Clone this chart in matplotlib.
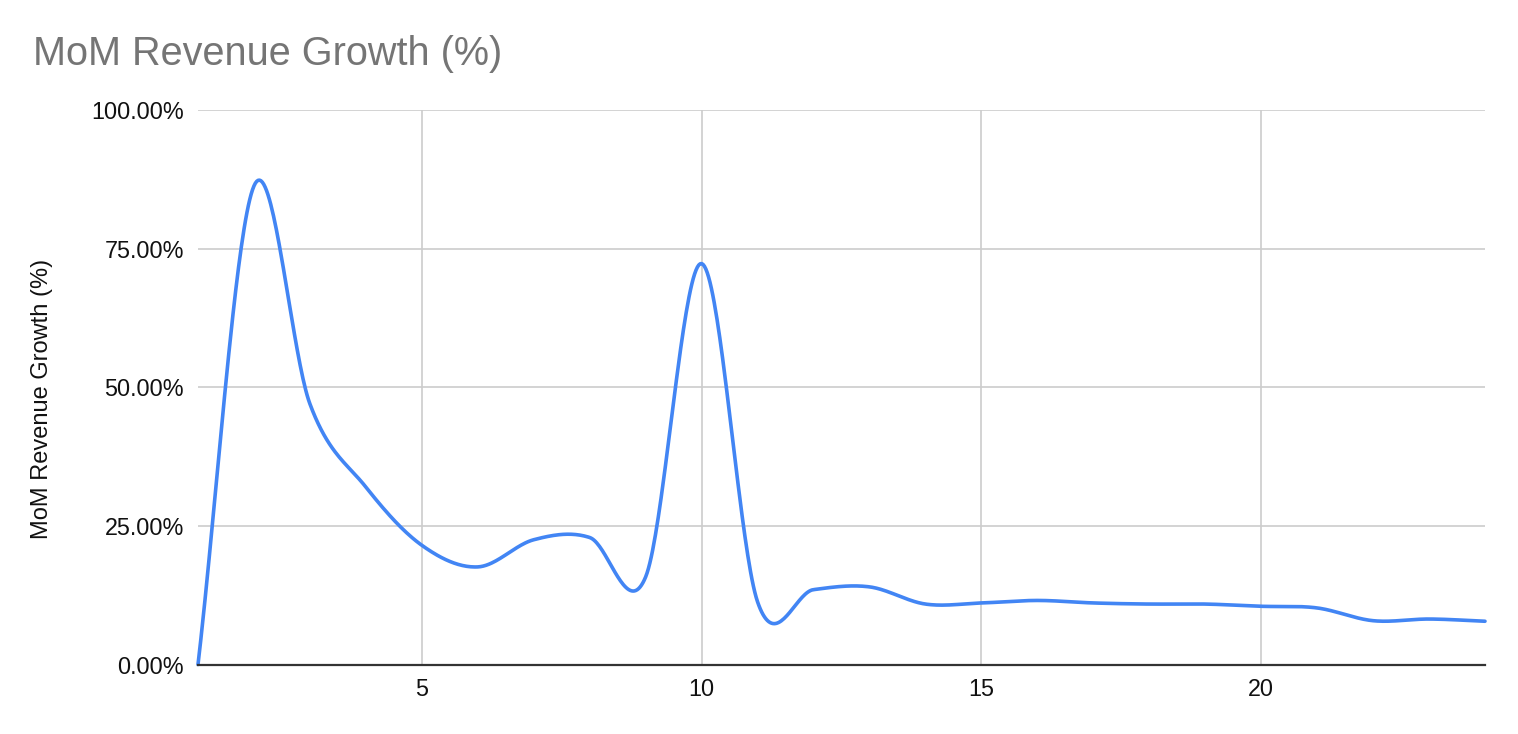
import numpy as np
import matplotlib
matplotlib.use("Agg")
import matplotlib.pyplot as plt
from matplotlib.ticker import FuncFormatter

plt.rcParams['font.family'] = ['Liberation Sans', 'DejaVu Sans']

# ---- data ----
months = [1, 2, 3, 4, 5, 6, 7, 8, 9, 10, 11, 12,
          13, 14, 15, 16, 17, 18, 19, 20, 21, 22, 23, 24]
growth_pct = [0.0, 86.3, 47.0, 32.0, 21.5, 17.6, 22.5, 22.9, 15.8, 72.3, 11.3, 13.5,
              14.0, 10.9, 11.1, 11.55, 11.1, 10.9, 10.9, 10.5, 10.2, 7.9, 8.2, 7.8]
x_ticks = [5, 10, 15, 20]
y_ticks = [0, 25, 50, 75, 100]
title = "MoM Revenue Growth (%)"
y_label = "MoM Revenue Growth (%)"


def smooth_curve(xs, ys, n=40):
    """Catmull-Rom (cubic Hermite) rendering of the line, like a 'function' curve."""
    xs = np.asarray(xs, float)
    ys = np.asarray(ys, float)
    m = np.empty_like(ys)
    m[1:-1] = (ys[2:] - ys[:-2]) / (xs[2:] - xs[:-2])
    m[0] = (ys[1] - ys[0]) / (xs[1] - xs[0])
    m[-1] = (ys[-1] - ys[-2]) / (xs[-1] - xs[-2])
    out_x, out_y = [], []
    for i in range(len(xs) - 1):
        h = xs[i + 1] - xs[i]
        t = np.linspace(0, 1, n, endpoint=False)
        h00 = 2 * t**3 - 3 * t**2 + 1
        h10 = t**3 - 2 * t**2 + t
        h01 = -2 * t**3 + 3 * t**2
        h11 = t**3 - t**2
        out_x.append(xs[i] + t * h)
        out_y.append(h00 * ys[i] + h10 * h * m[i] + h01 * ys[i + 1] + h11 * h * m[i + 1])
    out_x.append([xs[-1]])
    out_y.append([ys[-1]])
    return np.concatenate(out_x), np.concatenate(out_y)


W, H = 1518, 734
fig = plt.figure(figsize=(W / 100, H / 100), dpi=100)
ax = fig.add_axes([198 / W, 1 - 664.5 / H, (1485 - 198) / W, (664.5 - 110) / H])

sx, sy = smooth_curve(months, growth_pct)
ax.plot(sx, sy, color='#4285F4', lw=2.6, solid_capstyle='round', zorder=3, clip_on=False)

ax.set_xlim(1, 24)
ax.set_ylim(0, 100)
ax.set_xticks(x_ticks)
ax.set_yticks(y_ticks)
ax.yaxis.set_major_formatter(FuncFormatter(lambda v, p: f"{v:.2f}%"))
ax.grid(True, color='#cccccc', lw=1.2, zorder=0)
ax.set_axisbelow(True)
for s in ['left', 'right', 'top']:
    ax.spines[s].set_visible(False)
ax.spines['bottom'].set_color('#333333')
ax.spines['bottom'].set_linewidth(1.6)
ax.spines['bottom'].set_zorder(4)
ax.tick_params(axis='both', length=0, labelsize=16.8, labelcolor='#111111')
ax.tick_params(axis='y', pad=10)
ax.tick_params(axis='x', pad=10)

fig.text(42 / W, 1 - 399 / H, y_label, rotation=90, ha='center', va='center',
         fontsize=17, color='#111111')
fig.text(33 / W, 1 - 65 / H, title, ha='left', va='baseline',
         fontsize=28.5, color='#757575')

fig.savefig('out.png', dpi=100, facecolor='white')
